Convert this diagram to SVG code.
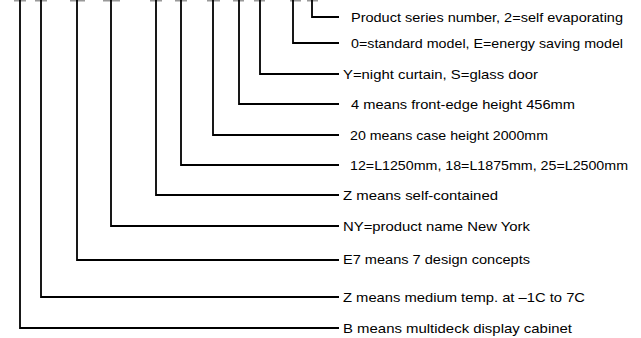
<svg xmlns="http://www.w3.org/2000/svg" width="641" height="338" viewBox="0 0 641 338">
<style>
.c{fill:none;stroke:#000;stroke-width:1.8}
.u{fill:#999}
text{font-family:"Liberation Sans",Arial,sans-serif;font-size:13.5px;fill:#000}
</style>
<rect width="641" height="338" fill="#fff"/>
<g id="marks">
<rect class="u" x="14" y="0" width="12" height="1.5"/>
<rect class="u" x="35" y="0" width="12" height="1.5"/>
<rect class="u" x="70" y="0" width="15" height="1.5"/>
<rect class="u" x="103" y="0" width="17" height="1.5"/>
<rect class="u" x="150" y="0" width="12" height="1.5"/>
<rect class="u" x="175" y="0" width="12" height="1.5"/>
<rect class="u" x="207" y="0" width="13" height="1.5"/>
<rect class="u" x="233" y="0" width="11" height="1.5"/>
<rect class="u" x="254" y="0" width="11" height="1.5"/>
<rect class="u" x="290" y="0" width="11" height="1.5"/>
<rect class="u" x="307" y="0" width="11" height="1.5"/>
</g>
<g id="connectors">
<path class="c" d="M312 0V17H339"/>
<path class="c" d="M293 0V43H339"/>
<path class="c" d="M260 0V74H339"/>
<path class="c" d="M239 0V104H339"/>
<path class="c" d="M213 0V135H339"/>
<path class="c" d="M181 0V165H339"/>
<path class="c" d="M156 0V195H339"/>
<path class="c" d="M111 0V226H339"/>
<path class="c" d="M77 0V260H339"/>
<path class="c" d="M41 0V297H339"/>
<path class="c" d="M20 0V328H339"/>
</g>
<g id="labels">
<text id="l1" x="351" y="21.5" textLength="272" lengthAdjust="spacingAndGlyphs">Product series number, 2=self evaporating</text>
<text id="l2" x="351" y="47.5" textLength="272" lengthAdjust="spacingAndGlyphs">0=standard model, E=energy saving model</text>
<text id="l3" x="343" y="78.5" textLength="195" lengthAdjust="spacingAndGlyphs">Y=night curtain, S=glass door</text>
<text id="l4" x="351" y="108.5" textLength="224" lengthAdjust="spacingAndGlyphs">4 means front-edge height 456mm</text>
<text id="l5" x="350" y="139.5" textLength="198" lengthAdjust="spacingAndGlyphs">20 means case height 2000mm</text>
<text id="l6" x="350" y="169.5" textLength="278" lengthAdjust="spacingAndGlyphs">12=L1250mm, 18=L1875mm, 25=L2500mm</text>
<text id="l7" x="343" y="199.5" textLength="155" lengthAdjust="spacingAndGlyphs">Z means self-contained</text>
<text id="l8" x="343" y="230.5" textLength="187" lengthAdjust="spacingAndGlyphs">NY=product name New York</text>
<text id="l9" x="343" y="263.5" textLength="187" lengthAdjust="spacingAndGlyphs">E7 means 7 design concepts</text>
<text id="l10" x="343" y="301.5" textLength="242" lengthAdjust="spacingAndGlyphs">Z means medium temp. at –1C to 7C</text>
<text id="l11" x="343" y="332.5" textLength="229" lengthAdjust="spacingAndGlyphs">B means multideck display cabinet</text>
</g>
</svg>
